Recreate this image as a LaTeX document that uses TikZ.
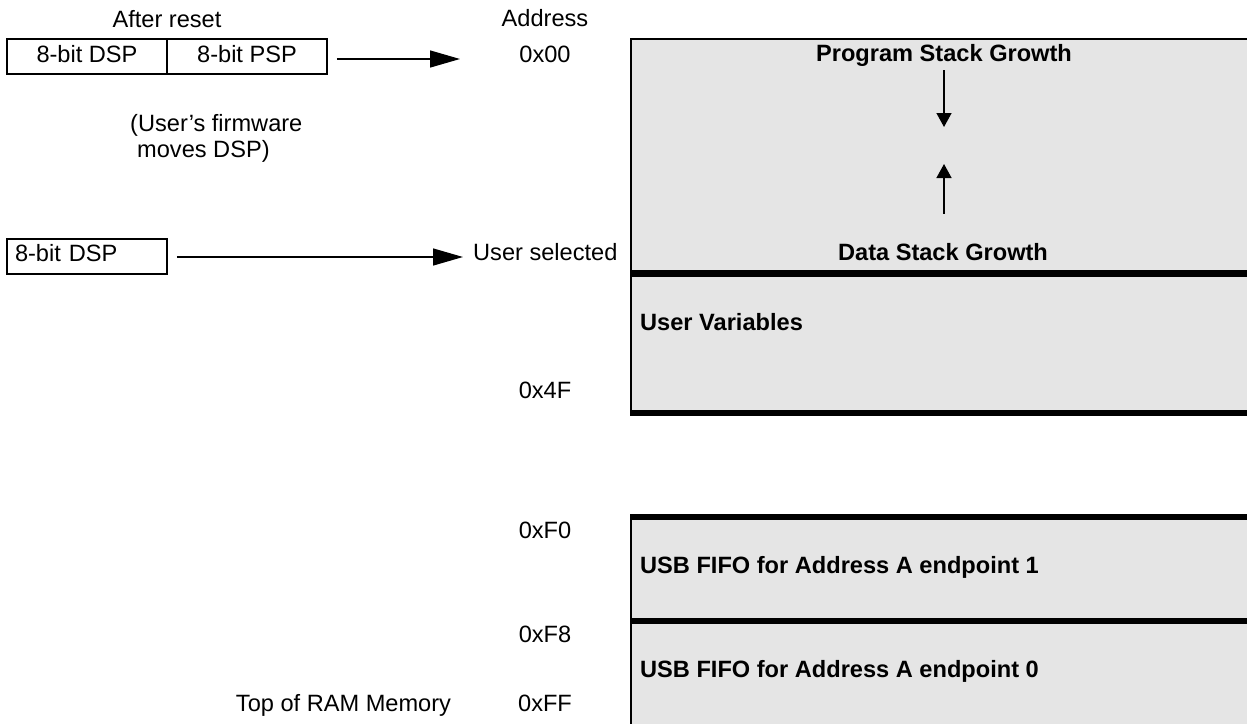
\documentclass[tikz,border=0pt]{standalone}
\usepackage{fontspec}
\setmainfont{Liberation Sans}
\usetikzlibrary{arrows.meta}
\begin{document}
\begin{tikzpicture}[x=1pt,y=-1pt,
  every node/.style={font=\fontsize{23.6}{26}\selectfont, inner sep=0pt},
  lbl/.style={anchor=base},
  lblw/.style={anchor=base west},
  hdr/.style={anchor=base, font=\fontsize{23.6}{26}\selectfont\bfseries},
  cell/.style={draw, line width=1.7pt, minimum width=160pt, minimum height=35pt, text height=17pt, text depth=6pt},
  ptrarrow/.style={line width=1.4pt, -{Triangle[length=30pt,width=17pt]}},
  growarrow/.style={line width=1.4pt, -{Triangle[length=14pt,width=15pt]}},
  region/.style={fill=black!10}
]
\useasboundingbox (0,0) rectangle (1247,723);
\clip (0,0) rectangle (1247,723);

% memory regions
\fill[region] (631,39) rectangle (1260,413);
\fill[region] (631,517) rectangle (1260,730);
\draw[line width=2pt] (1260,39) -- (631.2,39) -- (631.2,413);
\draw[line width=7pt] (630,273.5) -- (1260,273.5);
\draw[line width=5.5pt] (630,413) -- (1260,413);
\draw[line width=2.3pt] (631.2,517) -- (631.2,730);
\draw[line width=5.5pt] (630,517) -- (1260,517);
\draw[line width=5.5pt] (630,621) -- (1260,621);

% pointer cells
\node[cell] (dsp) at (87,56.5) {8-bit DSP};
\node[cell] (psp) at (247,56.5) {8-bit PSP};
\node[cell, minimum width=0pt, text width=144pt, align=left, inner xsep=8pt, text depth=8pt] (dsp2) at (87,256.5) {8-bit DSP};

% labels
\node[lbl] (after) at (167,27) {After reset};
\node[lbl] (addr) at (545,26) {Address};
\node[lbl] (a00) at (545,62) {0x00};
\node[lblw] (fw1) at (130,131) {(User’s firmware};
\node[lblw] (fw2) at (137,157) {moves DSP)};
\node[lblw] (usel) at (473,260) {User selected};
\node[lbl] (a4f) at (545,398) {0x4F};
\node[lbl] (af0) at (545,538) {0xF0};
\node[lbl] (af8) at (545,642) {0xF8};
\node[lbl] (aff) at (545,711) {0xFF};
\node[lbl] (topram) at (343.5,711) {Top of RAM Memory};

\node[hdr] (psg) at (944,61) {Program Stack Growth};
\node[hdr] (dsg) at (943,260) {Data Stack Growth};
\node[hdr, anchor=base west] (uv) at (640,330) {User Variables};
\node[hdr, anchor=base west] (f1) at (640,573) {USB FIFO for Address A endpoint 1};
\node[hdr, anchor=base west] (f0) at (640,677) {USB FIFO for Address A endpoint 0};

% pointer arrows
\coordinate (t1) at (460,59);
\coordinate (t2) at (463,257);
\draw[ptrarrow] ([xshift=9pt,yshift=-2.5pt]psp.east) -- (t1);
\draw[ptrarrow] ([xshift=9pt,yshift=-0.5pt]dsp2.east) -- (t2);

% growth arrows
\coordinate (g1) at (944,127);
\coordinate (g2) at (944,164);
\draw[growarrow, shorten <=4pt] (psg.south -| g1) -- (g1);
\draw[growarrow] ([yshift=29pt]dsg.north -| g2) -- (g2);
\end{tikzpicture}
\end{document}
